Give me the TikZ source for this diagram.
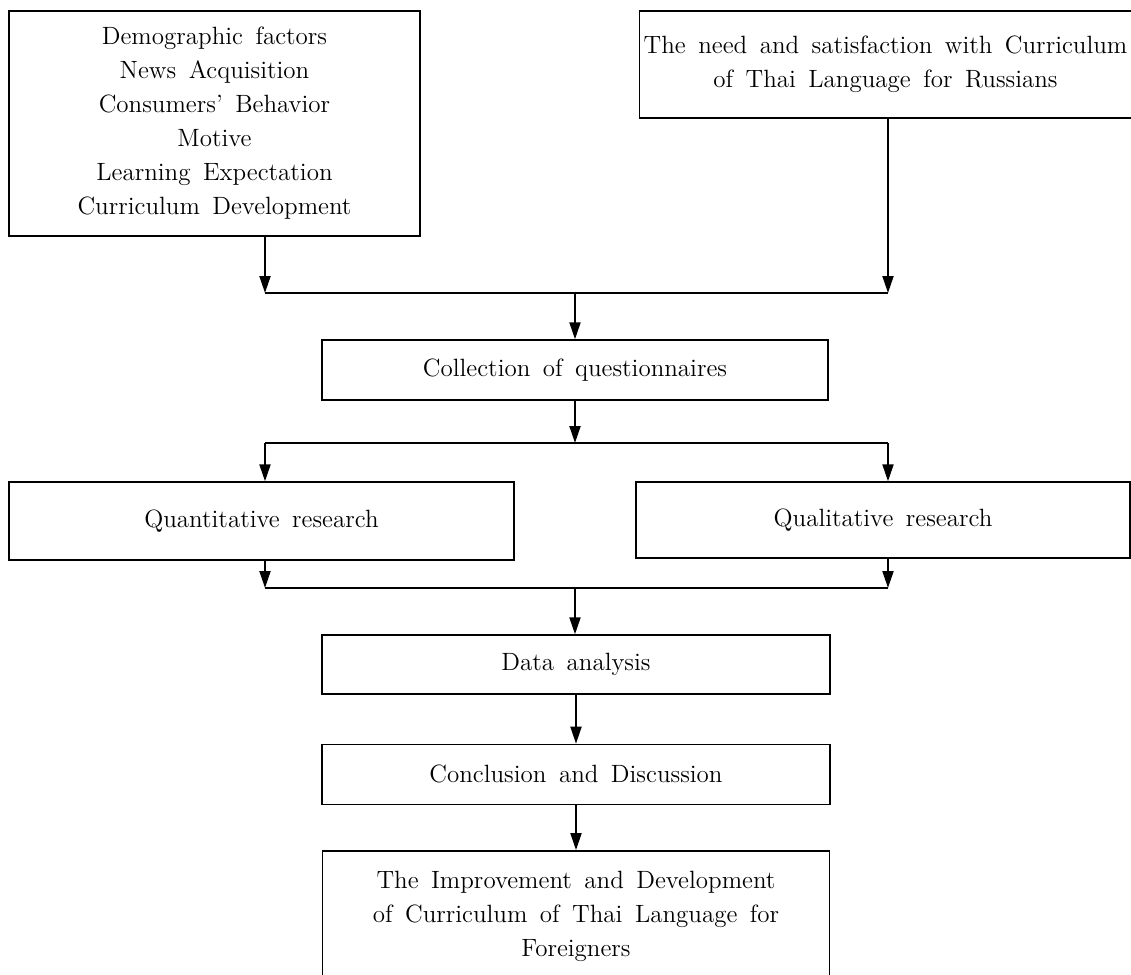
\documentclass[tikz,border=0pt]{standalone}
\usepackage{tikz}
\usetikzlibrary{positioning, arrows.meta, calc}
\newcommand{\boxfont}{\fontsize{12.5}{17}\selectfont\spaceskip=0.5em plus 0.1em\relax}
\tikzset{
  box/.style={
    draw, line width=0.7pt, align=center, inner sep=2pt, font=\boxfont
  },
  flow/.style={draw, -{Triangle[length=8.5pt,width=5.5pt]}, line width=1pt},
  joint/.style={draw, line width=1pt},
}
\begin{document}
\begin{tikzpicture}[x=0.5pt, y=-0.5pt]
  \useasboundingbox (0,0) rectangle (1131,975);
  \node[box, minimum width=205.5pt, minimum height=112.5pt] (FACTORS) at (214.5,123.5)
    {Demographic factors\\News Acquisition\\Consumers' Behavior\\Motive\\Learning Expectation\\Curriculum Development};
  \node[box, minimum width=244.5pt, minimum height=53.5pt] (NEED) at (885.5,64.5)
    {The need and satisfaction with Curriculum\\of Thai Language for Russians};
  \node[box, minimum width=253pt, minimum height=30pt] (COLLECT) at (575,370) {Collection of questionnaires};
  \node[box, minimum width=252.5pt, minimum height=39pt] (QUANT) at (261.5,521) {Quantitative research};
  \node[box, minimum width=247pt, minimum height=38pt] (QUAL) at (883,520) {Qualitative research};
  \node[box, minimum width=254pt, minimum height=29.5pt] (DATA) at (576,664.5) {Data analysis};
  \node[box, minimum width=254pt, minimum height=30pt, below=24.5pt of DATA] (CONCL) {Conclusion and Discussion};
  \node[box, minimum width=253.5pt, minimum height=66pt, below=22.5pt of CONCL] (IMPROVE)
    {The Improvement and Development\\of Curriculum of Thai Language for\\Foreigners};

  % junctions
  \coordinate (inL) at (265,293);
  \coordinate (inR) at (888,293);
  \coordinate (inM) at (575,293);
  \coordinate (spL) at (265,443);
  \coordinate (spR) at (888,443);
  \coordinate (spM) at (575,443);
  \coordinate (outL) at (265,588);
  \coordinate (outR) at (888,588);
  \coordinate (outM) at (575,588);

  \path[flow] (FACTORS.south -| inL) -- (inL);
  \path[flow] (NEED.south -| inR) -- (inR);
  \path[joint] (inL) -- (inR);
  \path[flow] (inM) -- (COLLECT.north -| inM);
  \path[flow] (COLLECT.south -| spM) -- (spM);
  \path[joint] (spL) -- (spR);
  \path[flow] (spL) -- (QUANT.north -| spL);
  \path[flow] (spR) -- (QUAL.north -| spR);
  \path[flow] (QUANT.south -| outL) -- (outL);
  \path[flow] (QUAL.south -| outR) -- (outR);
  \path[joint] (outL) -- (outR);
  \path[flow] (outM) -- (DATA.north -| outM);
  \path[flow] (DATA) -- (CONCL);
  \path[flow] (CONCL) -- (IMPROVE);
\end{tikzpicture}
\end{document}
